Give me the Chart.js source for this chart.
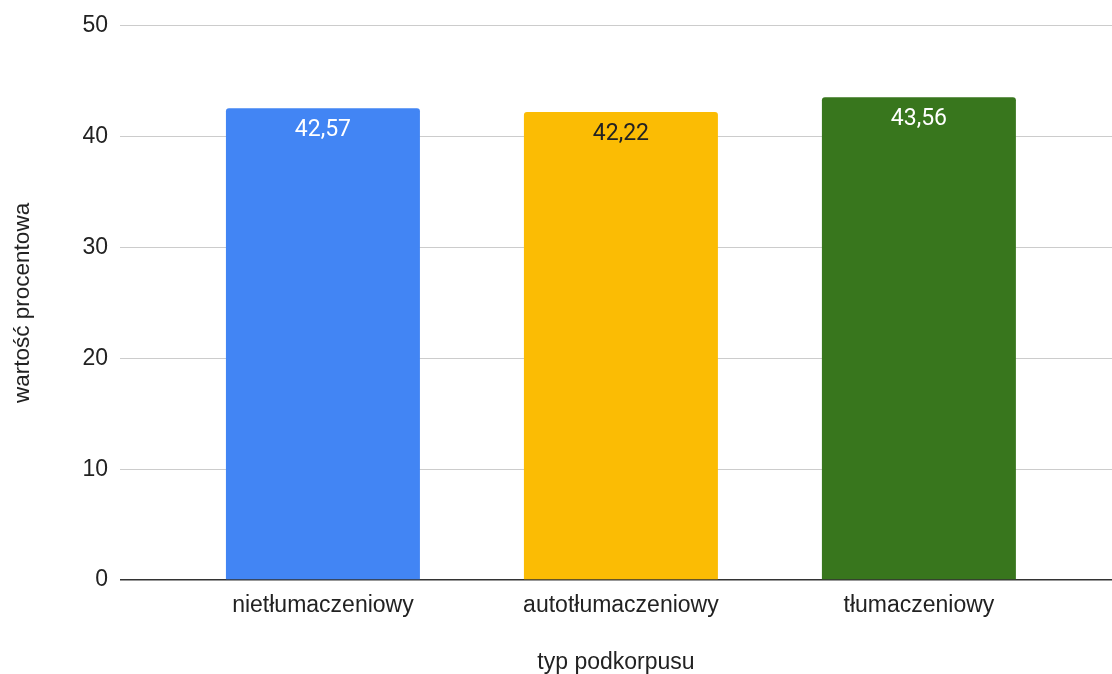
<!DOCTYPE html>
<html lang="pl">
<head>
<meta charset="utf-8">
<title>typ podkorpusu</title>
<script src="https://cdn.jsdelivr.net/npm/chart.js@4"></script>
<style>
  html, body { margin: 0; padding: 0; background: #ffffff; }
  #wrap { width: 1112px; height: 674px; position: relative; }
</style>
</head>
<body>
<div id="wrap"><canvas id="chart"></canvas></div>
<script>
// Subcorpus types and their percentage values
const categories = ['nietłumaczeniowy', 'autotłumaczeniowy', 'tłumaczeniowy'];
const values = [42.57, 42.22, 43.56];
const valueLabels = ['42,57', '42,22', '43,56'];
const barColors = ['#4285F4', '#FBBC04', '#38761D'];
const labelColors = ['#ffffff', '#222222', '#ffffff'];
const yTicks = [0, 10, 20, 30, 40, 50];

const axisFont = 'Liberation Sans, Arial, sans-serif';

// Writes each value inside the top of its bar
const barValueLabels = {
  id: 'barValueLabels',
  afterDatasetsDraw(chart) {
    const ctx = chart.ctx;
    const meta = chart.getDatasetMeta(0);
    ctx.save();
    ctx.font = '23px Roboto, sans-serif';
    ctx.textAlign = 'center';
    ctx.textBaseline = 'middle';
    meta.data.forEach((bar, i) => {
      ctx.fillStyle = labelColors[i];
      ctx.fillText(valueLabels[i], bar.x, bar.y + 22);
    });
    ctx.restore();
  }
};

new Chart(document.getElementById('chart'), {
  type: 'bar',
  data: {
    datasets: [{
      data: values.map((v, i) => ({ x: i, y: v })),
      backgroundColor: barColors,
      borderRadius: 3,
      borderSkipped: 'start',
      barPercentage: 0.651,
      categoryPercentage: 1
    }]
  },
  options: {
    responsive: true,
    maintainAspectRatio: false,
    animation: false,
    layout: { padding: { top: 25, right: 0, left: 0, bottom: 0 } },
    plugins: { legend: { display: false }, tooltip: { enabled: false } },
    scales: {
      x: {
        type: 'linear',
        offset: false,
        min: -0.681,
        max: 2.648,
        grid: { display: false, offset: false },
        border: { display: false },
        ticks: {
          stepSize: 1,
          includeBounds: false,
          autoSkip: false,
          maxRotation: 0,
          padding: 4,
          color: '#222222',
          font: { family: axisFont, size: 23 },
          callback: (v) => categories[v] ?? ''
        },
        title: {
          display: true,
          text: 'typ podkorpusu',
          color: '#222222',
          font: { family: axisFont, size: 23, lineHeight: 1 },
          padding: { top: 0, bottom: 0 }
        },
        afterFit(scale) { scale.height = 94; }
      },
      y: {
        min: 0,
        max: 50,
        afterBuildTicks(scale) { scale.ticks = yTicks.map(v => ({ value: v })); },
        grid: {
          drawTicks: false,
          color: (c) => c.tick && c.tick.value === 0 ? '#333333' : '#cccccc',
          lineWidth: (c) => c.tick && c.tick.value === 0 ? 1.5 : 1
        },
        border: { display: false },
        ticks: {
          padding: 12,
          color: '#222222',
          font: { family: axisFont, size: 23 }
        },
        title: {
          display: true,
          text: 'wartość procentowa',
          color: '#222222',
          font: { family: axisFont, size: 22.5, lineHeight: 1 },
          padding: { top: 12, bottom: 0 }
        },
        afterFit(scale) { scale.width = 120; }
      }
    }
  },
  plugins: [barValueLabels]
});
</script>
</body>
</html>
